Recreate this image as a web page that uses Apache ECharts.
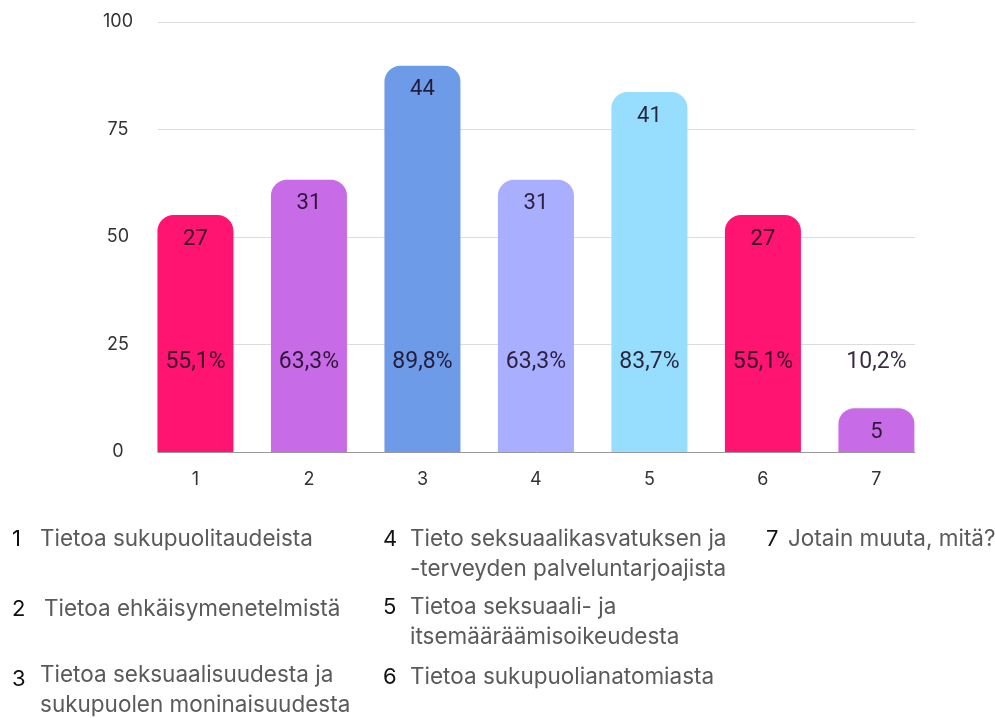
<!DOCTYPE html>
<html><head><meta charset="utf-8">
<script src="https://cdn.jsdelivr.net/npm/echarts@6/dist/echarts.min.js"></script>
<style>html,body{margin:0;padding:0;background:#fff}#c{width:995px;height:718px}</style>
</head><body><div id="c"></div>
<script>
const categories = ['1','2','3','4','5','6','7'];
const percents = [55.1, 63.3, 89.8, 63.3, 83.7, 55.1, 10.2];
const counts = [27, 31, 44, 31, 41, 27, 5];
const barColors = ['#FF1472','#C86BE6','#6E9BE8','#A9AEFF','#97DDFD','#FF1472','#C86BE6'];
const yTicks = [0, 25, 50, 75, 100];
const legendItems = [
  ['1', ['Tietoa sukupuolitaudeista']],
  ['2', ['Tietoa ehkäisymenetelmistä']],
  ['3', ['Tietoa seksuaalisuudesta ja', 'sukupuolen moninaisuudesta']],
  ['4', ['Tieto seksuaalikasvatuksen ja', '-terveyden palveluntarjoajista']],
  ['5', ['Tietoa seksuaali- ja', 'itsemääräämisoikeudesta']],
  ['6', ['Tietoa sukupuolianatomiasta']],
  ['7', ['Jotain muuta, mitä?']]
];

const PCT_LABEL_LEVEL = 20.7;
const FONT = 'Inter, "Noto Sans", sans-serif';
const LABEL_FONT = 'Roboto, "Liberation Sans", sans-serif';
const labelColor = 'rgba(22,8,32,0.86)';

const chart = echarts.init(document.getElementById('c'));

const barData = percents.map((v, i) => ({
  value: [i + 1, v],
  count: counts[i],
  itemStyle: { color: barColors[i] }
}));
const pctData = percents.map((v, i) => ({ value: [i + 1, PCT_LABEL_LEVEL], pct: v }));

// legend layout
const legendPos = [
  { nx: 12, tx: 40, y: 541 },
  { nx: 12, tx: 44, y: 611 },
  { nx: 12, tx: 40, y: 677, ny: 681 },
  { nx: 383, tx: 410, y: 541 },
  { nx: 383, tx: 410, y: 609 },
  { nx: 383, tx: 410, y: 679 },
  { nx: 766, tx: 788, y: 541 }
];
const graphics = [];
legendItems.forEach((it, i) => {
  const p = legendPos[i];
  graphics.push({ type: 'text', left: p.nx, top: (p.ny || p.y) - 13,
    style: { text: it[0], font: '400 22px ' + FONT, fill: '#111' } });
  it[1].forEach((line, j) => {
    graphics.push({ type: 'text', left: p.tx, top: p.y - 13 + j * 30,
      style: { text: line, font: '400 22.5px ' + FONT, fill: '#5a5a5a' } });
  });
});

chart.setOption({
  animation: false,
  backgroundColor: '#fff',
  grid: { left: 158, right: 80, top: 22, bottom: 266, containLabel: false },
  xAxis: {
    type: 'value', min: 0.67, max: 7.34, minInterval: 1, maxInterval: 1,
    axisLine: { show: true, lineStyle: { color: '#999', width: 1 } },
    axisTick: { show: false },
    splitLine: { show: false },
    axisLabel: {
      showMinLabel: false, showMaxLabel: false, margin: 19,
      fontFamily: FONT, fontSize: 18, color: '#333',
      formatter: v => (Number.isInteger(v) && v >= 1 && v <= categories.length) ? categories[v - 1] : ''
    }
  },
  yAxis: {
    type: 'value', min: yTicks[0], max: yTicks[yTicks.length - 1], interval: 25,
    axisLine: { show: false }, axisTick: { show: false },
    splitLine: { lineStyle: { color: '#dcdcdc', width: 1 } },
    axisLabel: { margin: 40, align: 'center', fontFamily: FONT, fontSize: 18, color: '#333' }
  },
  series: [
    {
      type: 'bar', data: barData, barWidth: 76,
      itemStyle: { borderRadius: [16, 16, 0, 0] },
      label: {
        show: true, position: 'insideTop', distance: 13,
        fontFamily: LABEL_FONT, fontSize: 22, color: labelColor,
        formatter: p => String(p.data.count)
      }
    },
    {
      type: 'bar', data: pctData, barWidth: 76, barGap: '-100%', z: 5, silent: true,
      itemStyle: { color: 'rgba(0,0,0,0)' },
      label: {
        show: true, position: 'top', distance: -11, opacity: 1,
        textBorderWidth: 0, fontFamily: LABEL_FONT, fontSize: 23, color: labelColor,
        formatter: p => String(p.data.pct).replace('.', ',') + '%'
      }
    }
  ],
  graphic: graphics
});
</script></body></html>
